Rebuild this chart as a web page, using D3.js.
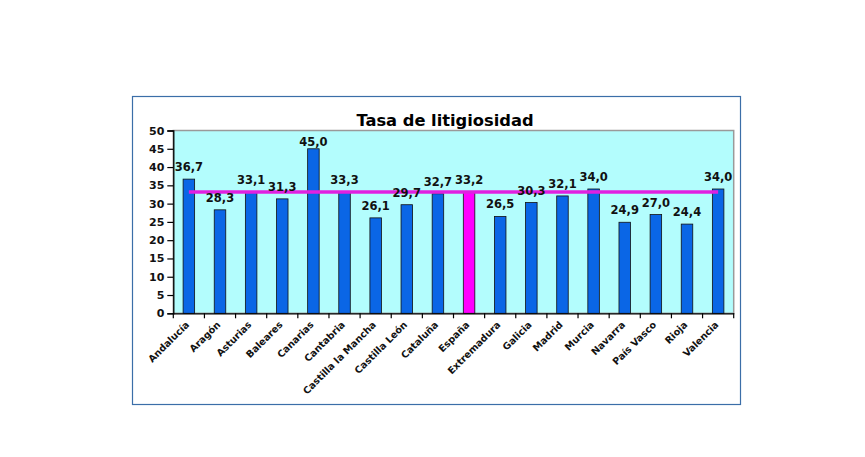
<!DOCTYPE html>
<html>
<head>
<meta charset="utf-8">
<script src="https://cdn.jsdelivr.net/npm/d3@7"></script>
<style>
  body { margin: 0; background: #fff; }
  text { font-family: "DejaVu Sans", Verdana, sans-serif; font-weight: bold; }
</style>
</head>
<body>
<div id="wrapper"></div>
<script>
const regiones = ["Andalucía", "Aragón", "Asturias", "Baleares", "Canarias", "Cantabria",
    "Castilla la Mancha", "Castilla León", "Cataluña", "España", "Extremadura", "Galicia",
    "Madrid", "Murcia", "Navarra", "País Vasco", "Rioja", "Valencia"]
const tasas = [36.7, 28.3, 33.1, 31.3, 45.0, 33.3, 26.1, 29.7, 32.7, 33.2, 26.5, 30.3,
    32.1, 34.0, 24.9, 27.0, 24.4, 34.0]
const mediaEspana = 33.2
const yTicks = [0, 5, 10, 15, 20, 25, 30, 35, 40, 45, 50]

function drawchart() {
    const parent = d3.select("#wrapper")
    parent.selectAll('*').remove()

    const width = 865, height = 457
    const svg = parent.append("svg")
        .attr("width", width)
        .attr("height", height)

    // outer chart frame
    svg.append("rect")
        .attr("x", 132.5).attr("y", 96.5)
        .attr("width", 608).attr("height", 308)
        .attr("fill", "#fff")
        .attr("stroke", "#3b6ea8")
        .attr("stroke-width", 1.2)

    const left = 173.3, right = 733.7, top = 130.5, bottom = 313.3

    const x = d3.scaleBand()
        .domain(regiones)
        .range([left, right])
        .paddingInner(0.63)
        .paddingOuter(0.315)
    const y = d3.scaleLinear()
        .domain([0, 50])
        .range([bottom, top])

    // plot area
    svg.append("rect")
        .attr("x", left).attr("y", top)
        .attr("width", right - left).attr("height", bottom - top)
        .attr("fill", "#b3fdfd")
        .attr("stroke", "#9a9a9a")
        .attr("stroke-width", 1.5)

    // title
    svg.append("text")
        .attr("x", 445)
        .attr("y", 126)
        .attr("text-anchor", "middle")
        .style("font-size", "16.3px")
        .text("Tasa de litigiosidad")

    // bars
    svg.append("g")
        .selectAll("rect")
        .data(regiones)
        .enter().append("rect")
        .attr("x", d => x(d))
        .attr("y", (d, i) => y(tasas[i]))
        .attr("width", x.bandwidth())
        .attr("height", (d, i) => bottom - y(tasas[i]))
        .attr("fill", d => d == "España" ? "#ff00ff" : "#0a66e6")
        .attr("stroke", "#111")
        .attr("stroke-width", 0.8)

    // mean line
    const line = d3.line()
        .x(d => x(d) + x.bandwidth() / 2)
        .y(() => y(mediaEspana))
    svg.append("path")
        .datum(regiones)
        .attr("d", line)
        .attr("fill", "none")
        .attr("stroke", "#e020e0")
        .attr("stroke-width", 3.5)

    // value labels
    svg.append("g")
        .selectAll("text")
        .data(regiones)
        .enter().append("text")
        .attr("x", (d, i) => x(d) + x.bandwidth() / 2)
        .attr("y", (d, i) => Math.max(y(tasas[i]) - 8, 146))
        .attr("text-anchor", "middle")
        .style("font-size", "11.5px")
        .style("fill", "#111")
        .text((d, i) => d3.format(".1f")(tasas[i]).replace(".", ","))

    // y axis
    const yAxis = d3.axisLeft(y).tickValues(yTicks).tickSize(6).tickPadding(3)
    const gy = svg.append("g")
        .attr("transform", "translate(" + left + ",0)")
        .call(yAxis)
    gy.select(".domain").attr("stroke", "#000").attr("stroke-width", 1.3)
    gy.selectAll(".tick line").attr("stroke", "#000").attr("stroke-width", 1.2)
    gy.selectAll(".tick text")
        .style("font-family", "DejaVu Sans, Verdana, sans-serif")
        .style("font-weight", "bold")
        .style("font-size", "11px")
        .style("fill", "#111")

    // x axis
    const xAxis = d3.axisBottom(x).tickSize(0).tickFormat("")
    const gx = svg.append("g")
        .attr("transform", "translate(0," + bottom + ")")
        .call(xAxis)
    gx.select(".domain").attr("stroke", "#000").attr("stroke-width", 1.3)
    const step = x.step()
    gx.selectAll(".sep")
        .data(d3.range(regiones.length + 1))
        .enter().append("line")
        .attr("x1", i => left + i * step)
        .attr("x2", i => left + i * step)
        .attr("y1", 0).attr("y2", 5)
        .attr("stroke", "#000")
        .attr("stroke-width", 1.2)

    svg.append("g")
        .selectAll("text")
        .data(regiones)
        .enter().append("text")
        .attr("transform", d => "translate(" + (x(d) + x.bandwidth() / 2 + 1) + "," + (bottom + 12) + ") rotate(-45)")
        .attr("text-anchor", "end")
        .style("font-size", "9.6px")
        .style("fill", "#111")
        .text(d => d)
}
drawchart()
</script>
</body>
</html>
